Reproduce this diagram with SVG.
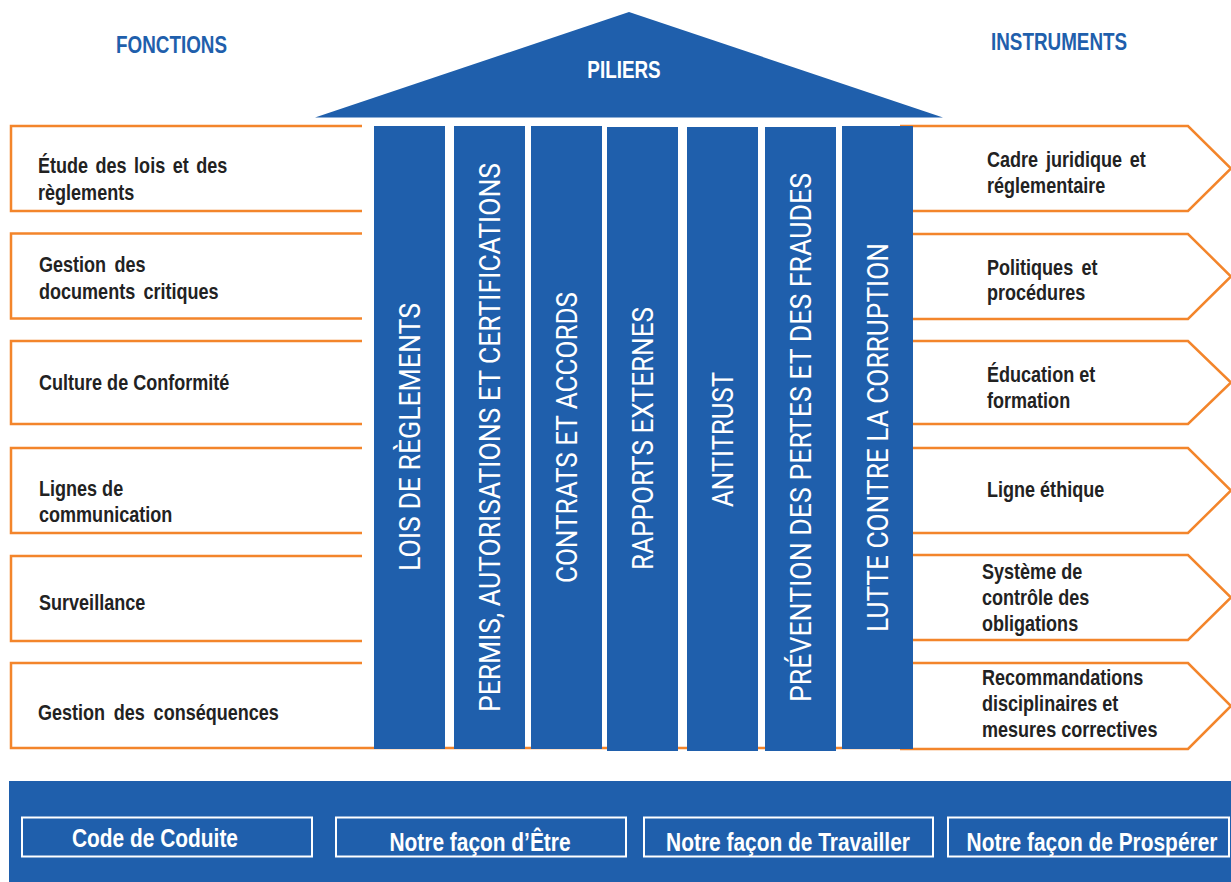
<svg xmlns="http://www.w3.org/2000/svg" width="1231" height="882" viewBox="0 0 1231 882">
<style>
.bg{fill:#ffffff}
.blue{fill:#1f5fac}
.box{fill:#ffffff;stroke:#f3852b;stroke-width:2.5;stroke-linejoin:miter}
.lbl{font-family:"Liberation Sans",Arial,sans-serif;font-weight:bold;font-size:22px;fill:#222222}
.hdr{font-family:"Liberation Sans",Arial,sans-serif;font-weight:bold;font-size:23px;fill:#1f5fac}
.roof{font-family:"Liberation Sans",Arial,sans-serif;font-weight:bold;font-size:23px;fill:#ffffff;text-anchor:middle}
.col{font-family:Roboto,"Liberation Sans",sans-serif;font-size:30px;fill:#ffffff}
.base{font-family:"Liberation Sans",Arial,sans-serif;font-weight:bold;font-size:25.5px;fill:#ffffff;text-anchor:middle}
.wbox{fill:none;stroke:#ffffff;stroke-width:2}
</style>
<rect class="bg" x="0" y="0" width="1231" height="882"/>

<g id="headers">
<text class="hdr" transform="translate(116,52.5) scale(0.82,1)">FONCTIONS</text>
<text class="hdr" transform="translate(991,50) scale(0.82,1)">INSTRUMENTS</text>
</g>

<g id="fonctions">
<g id="f1"><path class="box" d="M362,126 H11 V211 H362"/><text class="lbl" transform="translate(38,172.5) scale(0.82,1)" word-spacing="3">Étude des lois et des</text><text class="lbl" transform="translate(38,199.5) scale(0.82,1)">règlements</text></g>
<g id="f2"><path class="box" d="M362,233.5 H11 V318.5 H362"/><text class="lbl" transform="translate(39,271.5) scale(0.82,1)" word-spacing="4">Gestion des</text><text class="lbl" transform="translate(39,298.5) scale(0.82,1)" word-spacing="4">documents critiques</text></g>
<g id="f3"><path class="box" d="M362,341 H11 V424 H362"/><text class="lbl" transform="translate(39,390) scale(0.82,1)">Culture de Conformité</text></g>
<g id="f4"><path class="box" d="M362,448 H11 V533 H362"/><text class="lbl" transform="translate(39,496) scale(0.82,1)">Lignes de</text><text class="lbl" transform="translate(39,522) scale(0.82,1)">communication</text></g>
<g id="f5"><path class="box" d="M362,556 H11 V641 H362"/><text class="lbl" transform="translate(39,610) scale(0.82,1)">Surveillance</text></g>
<g id="f6"><path class="box" d="M362,663 H11 V748 H900"/><text class="lbl" transform="translate(38,720) scale(0.82,1)" word-spacing="4.5">Gestion des conséquences</text></g>
</g>

<g id="instruments">
<g id="i1"><path class="box" d="M900,126 H1188 L1231,168.5 L1188,211 H900"/><text class="lbl" transform="translate(987,166.5) scale(0.82,1)" word-spacing="3.4">Cadre juridique et</text><text class="lbl" transform="translate(987,192.5) scale(0.82,1)">réglementaire</text></g>
<g id="i2"><path class="box" d="M900,234 H1188 L1231,276.5 L1188,319 H900"/><text class="lbl" transform="translate(987,275) scale(0.82,1)" word-spacing="4">Politiques et</text><text class="lbl" transform="translate(987,300) scale(0.82,1)">procédures</text></g>
<g id="i3"><path class="box" d="M900,341 H1188 L1231,382.5 L1188,424 H900"/><text class="lbl" transform="translate(987,381.5) scale(0.82,1)">Éducation et</text><text class="lbl" transform="translate(987,408) scale(0.82,1)">formation</text></g>
<g id="i4"><path class="box" d="M900,448 H1188 L1231,490.5 L1188,533 H900"/><text class="lbl" transform="translate(987,496.5) scale(0.82,1)">Ligne éthique</text></g>
<g id="i5"><path class="box" d="M900,555 H1188 L1231,597.5 L1188,640 H900"/><text class="lbl" transform="translate(982,578.5) scale(0.82,1)">Système de</text><text class="lbl" transform="translate(982,604.5) scale(0.82,1)">contrôle des</text><text class="lbl" transform="translate(982,630.5) scale(0.82,1)">obligations</text></g>
<g id="i6"><path class="box" d="M900,663 H1188 L1231,706 L1188,749 H900"/><text class="lbl" transform="translate(982,685) scale(0.82,1)">Recommandations</text><text class="lbl" transform="translate(982,711) scale(0.82,1)">disciplinaires et</text><text class="lbl" transform="translate(982,737) scale(0.82,1)">mesures correctives</text></g>
</g>

<g id="roof">
<polygon class="blue" points="315,117.5 629,12 943,117.5"/>
<text class="roof" transform="translate(624,78) scale(0.82,1)">PILIERS</text>
</g>

<g id="pillars">
<g id="p1"><rect class="blue" x="374" y="126" width="71" height="623"/><text class="col" transform="translate(420.2,571) rotate(-90)" textLength="268" lengthAdjust="spacingAndGlyphs">LOIS DE RÈGLEMENTS</text></g>
<g id="p2"><rect class="blue" x="454" y="126" width="71" height="623"/><text class="col" transform="translate(500.2,712) rotate(-90)" textLength="549" lengthAdjust="spacingAndGlyphs">PERMIS, AUTORISATIONS ET CERTIFICATIONS</text></g>
<g id="p3"><rect class="blue" x="531" y="126" width="71" height="623"/><text class="col" transform="translate(577.2,583) rotate(-90)" textLength="291" lengthAdjust="spacingAndGlyphs">CONTRATS ET ACCORDS</text></g>
<g id="p4"><rect class="blue" x="607" y="127" width="71" height="624"/><text class="col" transform="translate(653.2,570) rotate(-90)" textLength="263" lengthAdjust="spacingAndGlyphs">RAPPORTS EXTERNES</text></g>
<g id="p5"><rect class="blue" x="687" y="127" width="71" height="624"/><text class="col" transform="translate(733.2,507) rotate(-90)" textLength="135" lengthAdjust="spacingAndGlyphs">ANTITRUST</text></g>
<g id="p6"><rect class="blue" x="765" y="127" width="71" height="624"/><text class="col" transform="translate(811.2,702) rotate(-90)" textLength="529" lengthAdjust="spacingAndGlyphs">PRÉVENTION DES PERTES ET DES FRAUDES</text></g>
<g id="p7"><rect class="blue" x="842" y="126" width="71" height="623"/><text class="col" transform="translate(888.2,632) rotate(-90)" textLength="389" lengthAdjust="spacingAndGlyphs">LUTTE CONTRE LA CORRUPTION</text></g>
</g>

<g id="foundation">
<rect class="blue" x="9" y="781" width="1222" height="101"/>
<g id="b1"><rect class="wbox" x="22" y="817.5" width="290" height="39"/><text class="base" transform="translate(155,847) scale(0.82,1)" font-size="24">Code de Coduite</text></g>
<g id="b2"><rect class="wbox" x="336" y="817.5" width="290" height="39"/><text class="base" transform="translate(480,851) scale(0.82,1)">Notre façon d’Être</text></g>
<g id="b3"><rect class="wbox" x="644" y="817.5" width="289" height="39"/><text class="base" transform="translate(788,851) scale(0.82,1)">Notre façon de Travailler</text></g>
<g id="b4"><rect class="wbox" x="948" y="817.5" width="281" height="39"/><text class="base" transform="translate(1092,851) scale(0.82,1)">Notre façon de Prospérer</text></g>
</g>

<g id="connectors"></g>
</svg>
